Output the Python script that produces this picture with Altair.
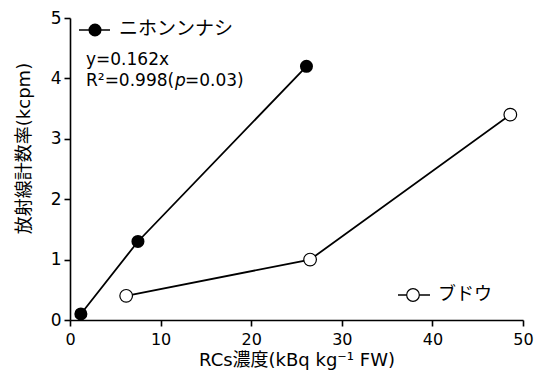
import altair as alt
import pandas as pd

# Measured samples: RCs concentration (kBq/kg FW) vs. count rate (kcpm)
nashi_x = [1.2, 7.5, 26.1]
nashi_y = [0.1, 1.3, 4.2]
budou_x = [6.2, 26.5, 48.6]
budou_y = [0.4, 1.0, 3.4]

NASHI = "ニホンンナシ"
BUDOU = "ブドウ"

df = pd.DataFrame({
    "conc": nashi_x + budou_x,
    "rate": nashi_y + budou_y,
    "series": [NASHI] * len(nashi_x) + [BUDOU] * len(budou_x),
})
one = pd.DataFrame({"k": [0]})  # single row for hand-placed annotations

FONT = "DejaVu Sans, Noto Sans CJK JP"

x_enc = alt.X("conc:Q", scale=alt.Scale(domain=[0, 50], nice=False, padding=0),
              axis=alt.Axis(values=[0, 10, 20, 30, 40, 50], format="d",
                            labelPadding=5, labelFontSize=16,
                            title="RCs濃度(kBq kg⁻¹ FW)", titlePadding=4))
y_enc = alt.Y("rate:Q", scale=alt.Scale(domain=[0, 5], nice=False, padding=0),
              axis=alt.Axis(values=[0, 1, 2, 3, 4, 5], format="d",
                            title="放射線計数率(kcpm)", titleX=-37, titleY=130))

base = alt.Chart(df)

lines = base.mark_line(color="black", strokeWidth=1.8).encode(
    x=x_enc, y=y_enc, detail="series:N")

nashi_pts = base.transform_filter(alt.datum.series == NASHI).mark_point(
    shape="circle", size=170, filled=True, color="black", opacity=1
).encode(x="conc:Q", y="rate:Q")

budou_pts = base.transform_filter(alt.datum.series == BUDOU).mark_point(
    shape="circle", size=160, filled=True, fill="white", stroke="black",
    strokeWidth=1.2, opacity=1
).encode(x="conc:Q", y="rate:Q")

ann = alt.Chart(one)

# Key entries and regression note
key_line1 = ann.mark_rule(color="black", strokeWidth=1.5).encode(
    x=alt.value(9), x2=alt.value(40), y=alt.value(12))
key_pt1 = ann.mark_point(shape="circle", size=170, filled=True,
                         color="black", opacity=1).encode(
    x=alt.value(25), y=alt.value(12))
key_txt1 = ann.mark_text(text=NASHI, align="left", baseline="middle",
                         fontSize=19, font=FONT, color="black").encode(
    x=alt.value(49), y=alt.value(11))

eq1 = ann.mark_text(text="y=0.162x", align="left", baseline="middle",
                    fontSize=17, font=FONT, color="black").encode(
    x=alt.value(16), y=alt.value(42))
eq2a = ann.mark_text(text="R²=0.998(", align="left", baseline="middle",
                     fontSize=17, font=FONT, color="black").encode(
    x=alt.value(16), y=alt.value(63))
eq2b = ann.mark_text(text="p", align="left", baseline="middle",
                     fontSize=17, font=FONT, fontStyle="italic",
                     color="black").encode(
    x=alt.value(105), y=alt.value(63))
eq2c = ann.mark_text(text="=0.03)", align="left", baseline="middle",
                     fontSize=17, font=FONT, color="black").encode(
    x=alt.value(115), y=alt.value(63))

key_line2 = ann.mark_rule(color="black", strokeWidth=1.5).encode(
    x=alt.value(328), x2=alt.value(360), y=alt.value(277))
key_pt2 = ann.mark_point(shape="circle", size=160, filled=True,
                         fill="white", stroke="black", strokeWidth=1.2,
                         opacity=1).encode(
    x=alt.value(343), y=alt.value(277))
key_txt2 = ann.mark_text(text=BUDOU, align="left", baseline="middle",
                         fontSize=18, font=FONT, color="black").encode(
    x=alt.value(368), y=alt.value(277))

chart = alt.layer(
    lines, nashi_pts, budou_pts,
    key_line1, key_pt1, key_txt1, eq1, eq2a, eq2b, eq2c,
    key_line2, key_pt2, key_txt2,
).properties(
    width=453, height=302,
    autosize=alt.AutoSizeParams(type="none"),
    padding={"left": 70, "top": 18, "right": 14, "bottom": 59},
    background="white",
).configure_view(stroke=None).configure_axis(
    grid=False, domainColor="black", domainWidth=1.6, tickColor="black",
    tickWidth=1.6, tickSize=6, labelFont=FONT, labelFontSize=17,
    labelColor="black", titleFont=FONT, titleFontSize=18,
    titleFontWeight="normal", titleColor="black", labelPadding=3,
    labelFlush=False, labelOverlap=False,
)

chart.save("out.html", embed_options={"renderer": "svg", "actions": False})
